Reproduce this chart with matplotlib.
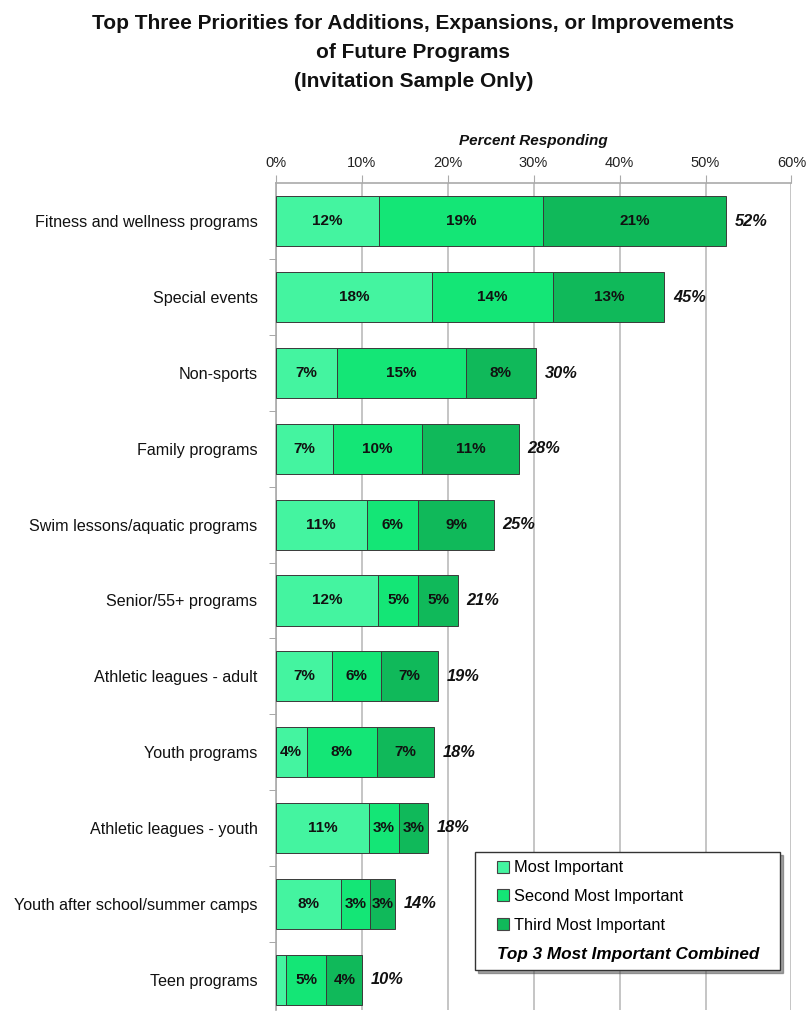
import matplotlib
matplotlib.use("Agg")
import matplotlib.pyplot as plt
from matplotlib.patches import Patch
from matplotlib.lines import Line2D
from matplotlib.offsetbox import DrawingArea

# Data: share of respondents ranking each program as 1st/2nd/3rd priority (%)
categories = [
    "Fitness and wellness programs",
    "Special events",
    "Non-sports",
    "Family programs",
    "Swim lessons/aquatic programs",
    "Senior/55+ programs",
    "Athletic leagues - adult",
    "Youth programs",
    "Athletic leagues - youth",
    "Youth after school/summer camps",
    "Teen programs",
]
most_important = [12.0, 18.2, 7.1, 6.7, 10.6, 11.9, 6.6, 3.6, 10.9, 7.6, 1.2]
second_most = [19.1, 14.1, 15.0, 10.3, 6.0, 4.7, 5.7, 8.2, 3.4, 3.4, 4.7]
third_most = [21.3, 12.9, 8.2, 11.3, 8.8, 4.6, 6.6, 6.6, 3.4, 2.9, 4.2]
series_names = ["Most Important", "Second Most Important", "Third Most Important"]
combined_name = "Top 3 Most Important Combined"
x_ticks = [0, 10, 20, 30, 40, 50, 60]

colors = ["#44F4A0", "#14E676", "#10B95A"]

plt.rcParams["font.family"] = ["Liberation Sans", "DejaVu Sans"]


def pct(v):
    return f"{int(v + 0.5)}%"


fig = plt.figure(figsize=(8.06, 10.15), dpi=100)
ax = fig.add_axes([0.342, 0.005, 0.64, 0.815])

series = [most_important, second_most, third_most]
y = list(range(len(categories)))
left = [0.0] * len(categories)
for vals, col in zip(series, colors):
    ax.barh(y, vals, left=left, height=0.66, color=col,
            edgecolor="#3a3a3a", linewidth=0.7, zorder=3)
    for i, v in enumerate(vals):
        if v >= 2:
            ax.text(left[i] + v / 2, i, pct(v), ha="center",
                    va="center", fontsize=11, fontweight="bold",
                    color="#111111", zorder=4)
    left = [l + v for l, v in zip(left, vals)]

for i, tot in enumerate(left):
    ax.text(tot + 1.0, i, pct(tot), ha="left", va="center",
            fontsize=11.8, fontweight="bold", fontstyle="italic",
            color="#111111", zorder=4)

ax.set_xlim(0, 60)
ax.set_ylim(10.4, -0.51)
ax.set_yticks(y)
ax.set_yticklabels(categories, fontsize=11.6, color="#111111")
ax.tick_params(axis="y", length=0, pad=13)
# small tick marks between categories on the left spine
ax.set_yticks([i + 0.5 for i in range(len(categories) - 1)], minor=True)
ax.tick_params(axis="y", which="minor", length=5, color="#999999")

ax.xaxis.tick_top()
ax.xaxis.set_label_position("top")
ax.set_xticks(x_ticks)
ax.set_xticklabels([f"{t}%" for t in x_ticks], fontsize=10.5, color="#222222")
ax.tick_params(axis="x", length=6, color="#aaaaaa", pad=3)
ax.set_xlabel("Percent Responding", fontsize=11, fontweight="bold",
              fontstyle="italic", labelpad=8, color="#111111")

ax.grid(axis="x", color="#bbbbbb", linewidth=1.2, zorder=0)
for s in ["right", "bottom"]:
    ax.spines[s].set_visible(False)
ax.spines["top"].set_color("#aaaaaa")
ax.spines["left"].set_color("#aaaaaa")
ax.spines["top"].set_linewidth(1.2)
ax.spines["left"].set_linewidth(1.2)

handles = [Patch(facecolor=c, edgecolor="#444444", linewidth=0.8) for c in colors]
handles.append(Line2D([], [], linestyle="none"))
labels = series_names + [combined_name]
leg = ax.legend(handles, labels, loc="lower right",
                bbox_to_anchor=(0.978, 0.048), fontsize=11.8, frameon=True,
                fancybox=False, shadow=True, edgecolor="#333333",
                handlelength=0.75, handleheight=0.75, handletextpad=0.3,
                labelspacing=0.85, borderpad=0.5, borderaxespad=0,
                framealpha=1)
leg.get_frame().set_linewidth(1.0)
last = leg.get_texts()[-1]
last.set_fontweight("bold")
last.set_fontstyle("italic")
last.set_fontsize(12.3)
leg.set_zorder(6)

# the combined row carries no swatch: its text starts where the swatches do,
# and extra side margins widen the legend box
entry_box = leg._legend_handle_box
column = entry_box.get_children()[0]
combined_row = column.get_children()[-1]
combined_row._children = [combined_row.get_children()[1]]
entry_box._children = [DrawingArea(10, 1), column, DrawingArea(9, 1)]
entry_box.sep = 0

fig.text(0.513, 0.986,
         "Top Three Priorities for Additions, Expansions, or Improvements\n"
         "of Future Programs\n(Invitation Sample Only)",
         ha="center", va="top", fontsize=15, fontweight="bold",
         linespacing=1.67, color="#111111")

fig.savefig("out.png", dpi=100)
